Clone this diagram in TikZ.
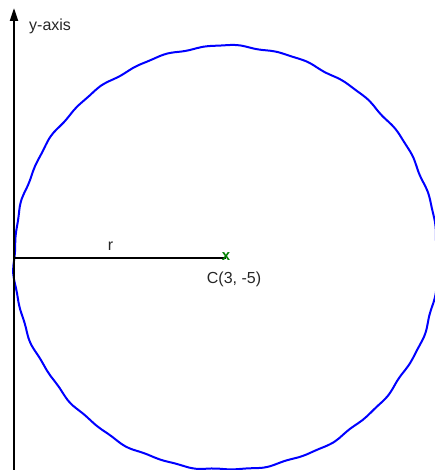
\documentclass[tikz,border=0pt]{standalone}
\usepackage{fontspec}
\setmainfont{Liberation Sans}
\usetikzlibrary{arrows.meta}
\begin{document}
\begin{tikzpicture}[x=1pt,y=-1pt,
  lbl/.style={inner sep=0pt,font=\fontsize{16}{18}\selectfont,text=black!85},
  axisline/.style={line width=2pt,black},
  circ/.style={line width=2pt,blue,line join=round}]
\useasboundingbox (0,0) rectangle (435,470);
\clip (0,0) rectangle (435,470);
\coordinate (center) at (226,258);
\coordinate (ybot) at (14,471);
\coordinate (ytop) at (14,8);
\coordinate (rleft) at (14,258);
\draw[circ,shift={(center)}] plot[smooth,domain=0:360,samples=181,variable=\t]
  ({(212+0.7*sin(19*\t)+0.5*sin(37*\t+50)+0.4*sin(7*\t))*cos(\t)},{(212+0.7*sin(19*\t)+0.5*sin(37*\t+50)+0.4*sin(7*\t))*sin(\t)}) -- cycle;
\draw[axisline,-{Triangle[length=13pt,width=8pt]}] (ybot) -- (ytop);
\draw[axisline] (rleft) -- (center);
\node[lbl,anchor=base west] (ylabel) at (29,31) {y-axis};
\node[lbl,anchor=base] (rlabel) at (110.5,250.5) {r};
\node[inner sep=0pt,text=green!50!black,font=\fontsize{15}{15}\selectfont\bfseries] (cmark) at (226,257) {x};
\node[lbl,anchor=base] (clabel) at (234,283) {C(3, -5)};
\end{tikzpicture}
\end{document}
